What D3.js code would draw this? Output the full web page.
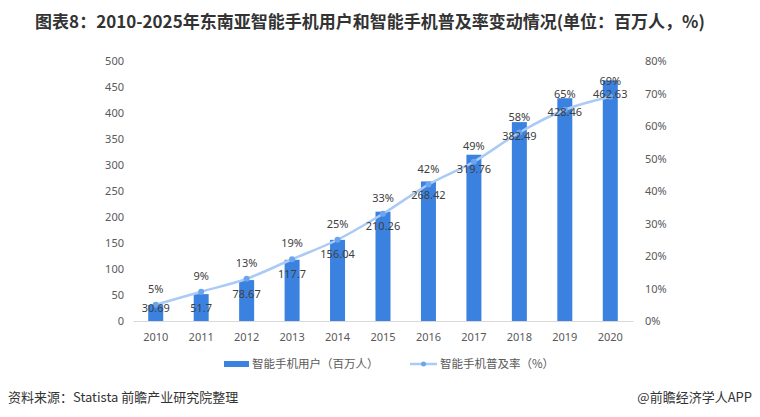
<!DOCTYPE html>
<html><head><meta charset="utf-8">
<script src="https://cdn.jsdelivr.net/npm/d3@7/dist/d3.min.js"></script>
<style>
body{margin:0;background:#fff;}
svg{display:block;font-family:"Noto Sans CJK SC","Microsoft YaHei",sans-serif;}
</style></head>
<body><svg id="c" width="760" height="417"></svg>
<script>
const years = ["2010","2011","2012","2013","2014","2015","2016","2017","2018","2019","2020"];
const users = [30.69,51.7,78.67,117.7,156.04,210.26,268.42,319.76,382.49,428.46,462.63];
const rate = [5,9,13,19,25,33,42,49,58,65,69];
const leftTicks = [0,50,100,150,200,250,300,350,400,450,500];
const rightTicks = [0,10,20,30,40,50,60,70,80];
const title = "图表8：2010-2025年东南亚智能手机用户和智能手机普及率变动情况(单位：百万人，%)";
const legendBar = "智能手机用户（百万人）";
const legendLine = "智能手机普及率（%）";
const source = "资料来源：Statista 前瞻产业研究院整理";
const brand = "@前瞻经济学人APP";

const svg = d3.select("#c");
const L = 133, R = 633, T = 61, B = 321;
const x = d3.scaleBand().domain(years).range([L, R]).paddingInner(0.67).paddingOuter(0.335);
const xc = d => x(d) + x.bandwidth()/2;
const yL = d3.scaleLinear().domain([0,500]).range([B, T]);
const yR = d3.scaleLinear().domain([0,80]).range([B, T]);

svg.append("text").attr("x", 370).attr("y", 28).attr("text-anchor","middle")
  .attr("font-size", 17).attr("font-weight","bold").attr("fill","#333").text(title);

// left axis
const ga = svg.append("g").attr("transform", `translate(${L},0)`)
  .call(d3.axisLeft(yL).tickValues(leftTicks).tickSize(0).tickPadding(9));
ga.select(".domain").remove();
ga.selectAll("text").attr("font-size",11).attr("fill","#595959").attr("font-family","'Noto Sans',sans-serif");

const gr = svg.append("g").attr("transform", `translate(${R},0)`)
  .call(d3.axisRight(yR).tickValues(rightTicks).tickFormat(d => d + "%").tickSize(0).tickPadding(12));
gr.select(".domain").remove();
gr.selectAll("text").attr("font-size",11).attr("fill","#595959").attr("font-family","'Noto Sans',sans-serif");

const gx = svg.append("g").attr("transform", `translate(0,${B})`)
  .call(d3.axisBottom(x).tickSize(0).tickPadding(12));
gx.select(".domain").attr("stroke","#d9d9d9");
gx.selectAll("text").attr("font-size",11).attr("fill","#595959").attr("font-family","'Noto Sans',sans-serif");

// bars
svg.append("g").selectAll("rect").data(years).join("rect")
  .attr("x", d => x(d)).attr("width", x.bandwidth())
  .attr("y", (d,i) => yL(users[i])).attr("height", (d,i) => B - yL(users[i]))
  .attr("fill", "#3b82e0");

// line
const line = d3.line().x((d,i) => xc(years[i])).y(d => yR(d)).curve(d3.curveMonotoneX);
svg.append("path").datum(rate).attr("d", line).attr("fill","none")
  .attr("stroke","#a9cbf5").attr("stroke-width",2.5);
svg.append("g").selectAll("circle").data(rate).join("circle")
  .attr("cx", (d,i) => xc(years[i])).attr("cy", d => yR(d)).attr("r", 3)
  .attr("fill","#6aa5ee");

// labels
svg.append("g").selectAll("text").data(users).join("text")
  .attr("x", (d,i) => xc(years[i])).attr("y", d => Math.min(yL(d) + 14, 308) + 4)
  .attr("text-anchor","middle").attr("font-size",11).attr("fill","#404040")
  .attr("font-family","'Noto Sans',sans-serif").text(d => d);
svg.append("g").selectAll("text").data(rate).join("text")
  .attr("x", (d,i) => xc(years[i])).attr("y", d => yR(d) - 16 + 4)
  .attr("text-anchor","middle").attr("font-size",11).attr("fill","#404040")
  .attr("font-family","'Noto Sans',sans-serif").text(d => d + "%");

// legend
const lg = svg.append("g");
lg.append("rect").attr("x",224).attr("y",361).attr("width",25).attr("height",6).attr("fill","#3b82e0");
lg.append("text").attr("x",252).attr("y",368).attr("font-size",11.5).attr("fill","#595959").text(legendBar);
lg.append("line").attr("x1",410).attr("x2",437).attr("y1",364).attr("y2",364).attr("stroke","#a9cbf5").attr("stroke-width",2.5);
lg.append("circle").attr("cx",423.5).attr("cy",364).attr("r",2.5).attr("fill","#6aa5ee");
lg.append("text").attr("x",440).attr("y",368).attr("font-size",11.5).attr("fill","#595959").text(legendLine);

svg.append("text").attr("x",8).attr("y",402).attr("font-size",13).attr("fill","#333").text(source);
svg.append("text").attr("x",752).attr("y",402).attr("text-anchor","end").attr("font-size",13).attr("fill","#333").text(brand);
</script></body></html>
